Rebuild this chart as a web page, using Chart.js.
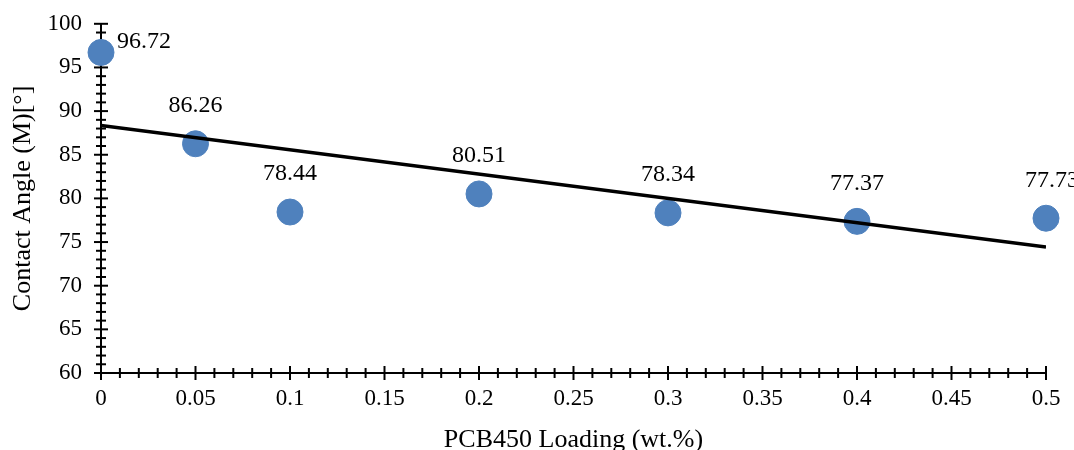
<!DOCTYPE html>
<html>
<head>
<meta charset="utf-8">
<script src="https://cdn.jsdelivr.net/npm/chart.js@4"></script>
<style>
  html, body { margin: 0; padding: 0; background: #fff; }
  #wrap { width: 1074px; height: 450px; overflow: hidden; }
  #myChart { display: block; margin-top: -9px; }
</style>
</head>
<body>
<div id="wrap"><canvas id="myChart" width="1074" height="459"></canvas></div>
<script>
const loading = [0, 0.05, 0.1, 0.2, 0.3, 0.4, 0.5]
const contactAngle = [96.72, 86.26, 78.44, 80.51, 78.34, 77.37, 77.73]
// linear trendline end points
const trendX = [0, 0.5]
const trendY = [88.36, 74.44]

const serif = "'Liberation Serif', 'Times New Roman', serif"

// ticks that cross the axis lines, major + minor (drawn under the points)
const crossTicks = {
  id: 'crossTicks',
  beforeDatasetsDraw(chart) {
    const ctx = chart.ctx
    const x = chart.scales.x
    const y = chart.scales.y
    const x0 = x.getPixelForValue(0)
    const y0 = y.getPixelForValue(60)
    ctx.save()
    ctx.strokeStyle = '#000'
    ctx.lineWidth = 2
    for (let i = 0; i <= 50; i++) {
      const px = x.getPixelForValue(i / 100)
      const len = i % 5 === 0 ? 7 : 5
      ctx.beginPath()
      ctx.moveTo(px, y0 - len)
      ctx.lineTo(px, y0 + len)
      ctx.stroke()
    }
    for (let v = 60; v <= 100; v++) {
      const py = y.getPixelForValue(v)
      const len = v % 5 === 0 ? 7 : 5
      ctx.beginPath()
      ctx.moveTo(x0 - len, py)
      ctx.lineTo(x0 + len, py)
      ctx.stroke()
    }
    ctx.restore()
  }
}

const pointLabels = {
  id: 'pointLabels',
  afterDatasetsDraw(chart) {
    const ctx = chart.ctx
    const meta = chart.getDatasetMeta(1)
    ctx.save()
    ctx.font = '24px ' + serif
    ctx.fillStyle = '#000'
    ctx.textBaseline = 'middle'
    meta.data.forEach((pt, i) => {
      const txt = contactAngle[i].toFixed(2)
      if (i === 0) {
        ctx.textAlign = 'left'
        ctx.fillText(txt, pt.x + 16, pt.y - 11)
      } else {
        ctx.textAlign = 'center'
        ctx.fillText(txt, pt.x + (i === 6 ? 6 : 0), pt.y - 38)
      }
    })
    ctx.restore()
  }
}

const ctx = document.getElementById('myChart').getContext('2d')

const config = {
  type: 'scatter',
  data: {
    datasets: [
      {
        type: 'line',
        label: 'Linear',
        order: 0,
        data: trendX.map((v, i) => ({x: v, y: trendY[i]})),
        borderColor: '#000',
        borderWidth: 3.5,
        pointRadius: 0,
        fill: false
      },
      {
        label: 'Contact Angle',
        order: 1,
        data: loading.map((v, i) => ({x: v, y: contactAngle[i]})),
        backgroundColor: '#4F81BD',
        borderColor: '#4F81BD',
        pointRadius: 13,
        pointHoverRadius: 13,
        clip: false
      }
    ]
  },
  options: {
    responsive: false,
    animation: false,
    layout: { padding: { top: 12, right: 28, left: 0, bottom: 0 } },
    plugins: {
      legend: { display: false },
      tooltip: { enabled: false }
    },
    scales: {
      x: {
        type: 'linear',
        min: 0,
        max: 0.5,
        afterFit(scale) { scale.height = 77 },
        grid: { display: false, drawTicks: false },
        border: { display: true, color: '#000', width: 2 },
        ticks: {
          stepSize: 0.05,
          padding: 12,
          color: '#000',
          font: { family: serif, size: 23 },
          callback: (v) => Number(v.toFixed(2)).toString()
        },
        title: {
          display: true,
          text: 'PCB450 Loading (wt.%)',
          color: '#000',
          font: { family: serif, size: 26 },
          padding: { top: 0, bottom: -6 }
        }
      },
      y: {
        min: 60,
        max: 100,
        afterFit(scale) { scale.width = 101 },
        grid: { display: false, drawTicks: false },
        border: { display: true, color: '#000', width: 2 },
        ticks: {
          stepSize: 5,
          padding: 19,
          color: '#000',
          font: { family: serif, size: 23 }
        },
        title: {
          display: true,
          text: 'Contact Angle (M)[°]',
          color: '#000',
          font: { family: serif, size: 26 },
          padding: { top: 8, bottom: 0 }
        }
      }
    }
  },
  plugins: [crossTicks, pointLabels]
}

const myChart = new Chart(ctx, config)
</script>
</body>
</html>
